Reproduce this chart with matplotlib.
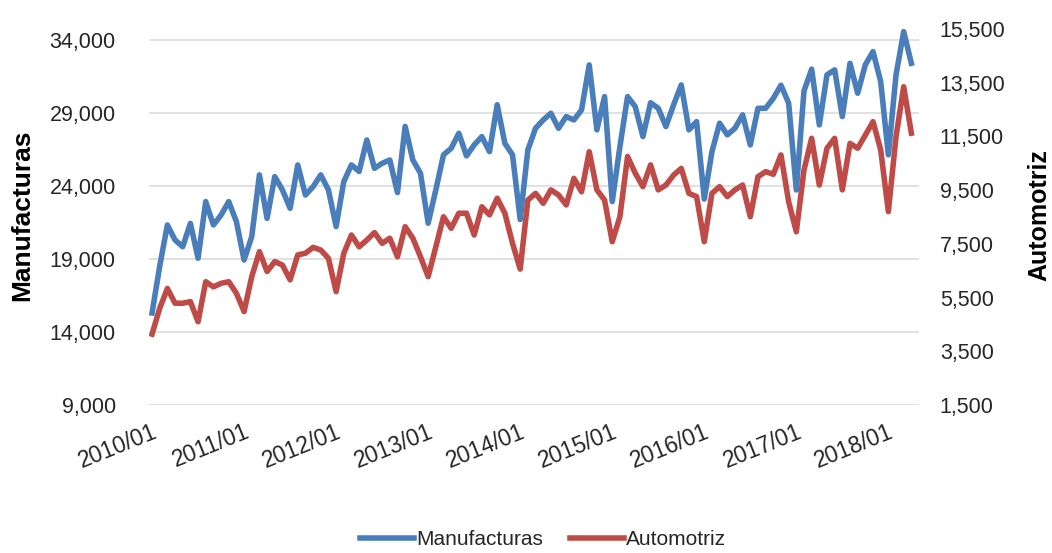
import numpy as np
import matplotlib
matplotlib.use("Agg")
import matplotlib.pyplot as plt

plt.rcParams["font.family"] = ["Liberation Sans", "DejaVu Sans"]

# monthly series, 2010/01 .. 2018/04
MANUFACTURAS = [
    15300, 18500, 21330, 20300, 19840, 21440, 19050, 22930, 21330, 22010, 22930, 21560,
    18930, 20530, 24760, 21780, 24640, 23730, 22470, 25440, 23380, 23950, 24760, 23730,
    21220, 24300, 25440, 24990, 27150, 25210, 25550, 25780, 23550, 28080, 25780, 24870,
    21450, 23730, 26130, 26580, 27610, 26060, 26810, 27380, 26350, 29560, 26920, 26130,
    21700, 26470, 27950, 28520, 28980, 27950, 28750, 28520, 29210, 32290, 27840, 30120,
    22930, 26690, 30120, 29430, 27380, 29700, 29320, 28070, 29550, 30920, 27840, 28410,
    23100, 26350, 28300, 27500, 27950, 28870, 26810, 29320, 29320, 30000, 30900, 29670,
    23730, 30500, 32000, 28180, 31610, 31950, 28750, 32400, 30350, 32300, 33200, 31150,
    26130, 31600, 34570, 32400,
]
AUTOMOTRIZ = [
    4140, 5100, 5840, 5290, 5290, 5350, 4600, 6090, 5900, 6030, 6090, 5660,
    4980, 6280, 7210, 6470, 6840, 6710, 6160, 7090, 7150, 7370, 7270, 6960,
    5720, 7150, 7830, 7390, 7640, 7920, 7520, 7710, 7020, 8140, 7710, 7020,
    6280, 7390, 8510, 8080, 8640, 8640, 7830, 8880, 8580, 9200, 8640, 7520,
    6560, 9130, 9380, 9010, 9510, 9320, 8950, 9940, 9440, 10930, 9510, 9130,
    7580, 8510, 10750, 10130, 9630, 10440, 9510, 9690, 10060, 10310, 9380, 9260,
    7580, 9380, 9630, 9260, 9510, 9690, 8510, 10000, 10190, 10090, 10810, 9070,
    7950, 10250, 11430, 9690, 11060, 11430, 9510, 11240, 11060, 11550, 12050, 11000,
    8700, 11490, 13350, 11620,
]
YEAR_LABELS = [f"{y}/01" for y in range(2010, 2019)]
LEFT_TICKS = [9000, 14000, 19000, 24000, 29000, 34000]
RIGHT_TICKS = [1500, 3500, 5500, 7500, 9500, 11500, 13500, 15500]

BLUE = "#4a7ebb"
RED = "#be4b48"
TXT = "#262626"

months = np.arange(len(MANUFACTURAS))

fig = plt.figure(figsize=(10.52, 5.53), dpi=100)
ax = fig.add_axes([0.1416, 0.2676, 0.8736 - 0.1416, 0.9476 - 0.2676])
ax2 = ax.twinx()

l1, = ax.plot(months, MANUFACTURAS, color=BLUE, lw=4, solid_joinstyle="round",
              label="Manufacturas")
l2, = ax2.plot(months, AUTOMOTRIZ, color=RED, lw=4, solid_joinstyle="round",
               label="Automotriz")

ax.set_xlim(-0.4, 100.0)
ax.set_ylim(9000, 34750)
ax2.set_ylim(1500, 15500)

ax.set_yticks(LEFT_TICKS)
ax.set_yticklabels([f"{v:,}" for v in LEFT_TICKS])
ax2.set_yticks(RIGHT_TICKS)
ax2.set_yticklabels([f"{v:,}" for v in RIGHT_TICKS])

ax.set_xticks(np.arange(0, len(MANUFACTURAS), 12))
ax.set_xticklabels(YEAR_LABELS, rotation=22, ha="right", va="top",
                   rotation_mode="anchor")

ax.grid(axis="y", color="#d9d9d9", lw=1.1)
ax.set_axisbelow(True)
for a in (ax, ax2):
    for s in a.spines.values():
        s.set_visible(False)
ax.tick_params(axis="y", length=0, pad=24, labelsize=15.5, labelcolor=TXT)
ax.tick_params(axis="x", length=0, pad=11, labelsize=16.5, labelcolor=TXT)
ax2.tick_params(axis="y", length=0, pad=15, labelsize=15.5, labelcolor=TXT)

fig.text(0.021, 0.611, "Manufacturas", rotation=90, ha="center", va="center",
         fontsize=19, fontweight="bold", color="#000000")
fig.text(0.988, 0.611, "Automotriz", rotation=90, ha="center", va="center",
         fontsize=18, fontweight="bold", color="#000000")

fig.legend(handles=[l1, l2], loc="center", bbox_to_anchor=(0.516, 0.024), ncol=2,
           frameon=False, fontsize=15, handlelength=2.6, handletextpad=0.1,
           columnspacing=1.3, labelcolor=TXT)

fig.savefig("out.png", dpi=100)
